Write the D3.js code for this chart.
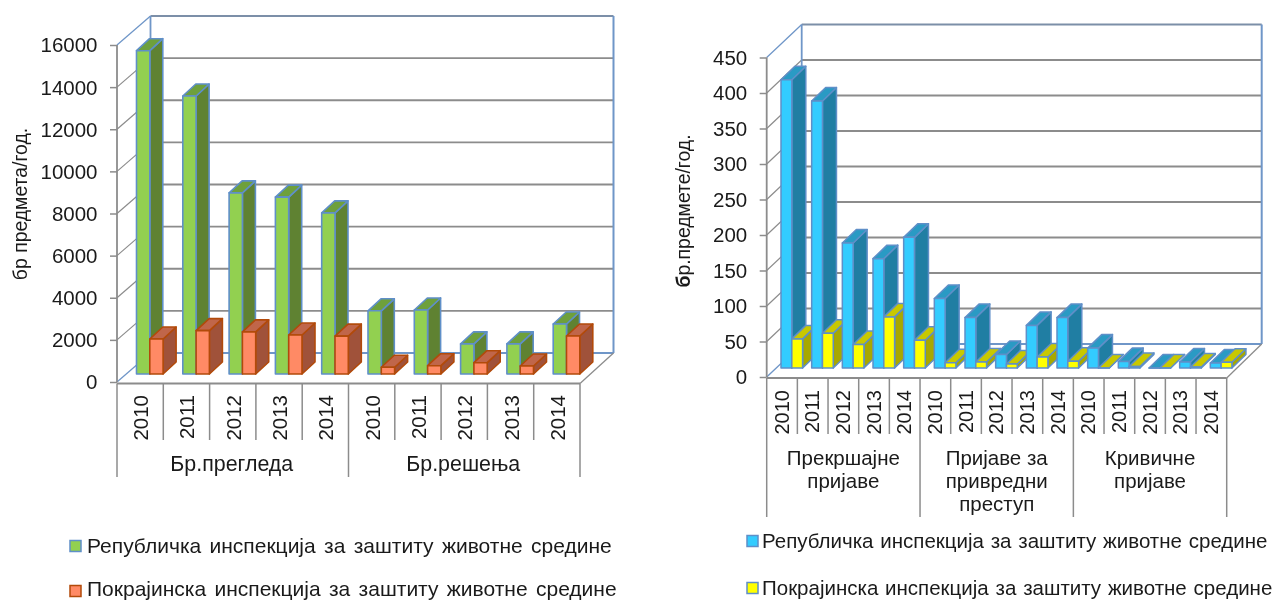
<!DOCTYPE html>
<html><head><meta charset="utf-8">
<script src="https://cdn.jsdelivr.net/npm/d3@7"></script>
<style>html,body{margin:0;padding:0;background:#fff;overflow:hidden}svg{display:block;filter:blur(0.35px)}text{font-family:"Liberation Sans",Arial,sans-serif;fill:#1a1a1a}</style>
</head><body><svg id="c" width="1274" height="600"></svg>
<script>
const years = ["2010","2011","2012","2013","2014"];
const leftGroups = [["Бр.прегледа"],["Бр.решења"]];
const leftRepublic = [15350,13200,8600,8400,7650,3000,3040,1430,1430,2375];
const leftProvince = [1660,2060,2000,1850,1800,320,395,537,380,1805];
const leftTicks = [0,2000,4000,6000,8000,10000,12000,14000,16000];
const rightGroups = [["Прекршајне","пријаве"],["Пријаве за","привредни","преступ"],["Кривичне","пријаве"]];
const rightRepublic = [406,376,176,154,184,98,71,19,60,71,28,9,0,8.5,7];
const rightProvince = [41,49,33,72,39,7.5,8.5,5.6,15.5,9.4,0,2,0,1.5,8];
const rightTicks = [0,50,100,150,200,250,300,350,400,450];
const legendNames = ["Републичка инспекција за заштиту животне средине","Покрајинска инспекција за заштиту животне средине"];

const svg = d3.select("#c");
const GRID="#8c8c8c", WALL="#6f96c8";

function chart(o){
  const g = svg.append("g");
  const y = d3.scaleLinear().domain([0,o.max]).range([o.y0,o.yTop]);
  const wallOff = o.y0 - o.backBottom;
  g.selectAll(".grid").data(o.ticks.slice(1,-1)).enter().append("line")
    .attr("x1",o.x0+o.dx).attr("x2",o.x1+o.dx)
    .attr("y1",d=>y(d)-wallOff).attr("y2",d=>y(d)-wallOff)
    .attr("stroke",GRID).attr("stroke-width",1.9);
  g.selectAll(".side").data(o.ticks.slice(1,-1)).enter().append("line")
    .attr("x1",o.x0).attr("x2",o.x0+o.dx)
    .attr("y1",d=>y(d)).attr("y2",d=>y(d)-wallOff)
    .attr("stroke",GRID).attr("stroke-width",1.2);
  g.append("line").attr("x1",o.x0+o.dx).attr("x2",o.x1+o.dx).attr("y1",y(o.max)-wallOff).attr("y2",y(o.max)-wallOff).attr("stroke","#7c8fa8").attr("stroke-width",1.8);
  g.append("line").attr("x1",o.x0+o.dx).attr("x2",o.x1+o.dx).attr("y1",o.backBottom).attr("y2",o.backBottom).attr("stroke",WALL).attr("stroke-width",2);
  g.append("line").attr("x1",o.x1+o.dx).attr("x2",o.x1+o.dx).attr("y1",y(o.max)-wallOff).attr("y2",o.backBottom).attr("stroke",WALL).attr("stroke-width",2);
  g.append("line").attr("x1",o.x0+o.dx).attr("x2",o.x0+o.dx).attr("y1",y(o.max)-wallOff).attr("y2",o.backBottom).attr("stroke",WALL).attr("stroke-width",1.8);
  g.append("line").attr("x1",o.x0).attr("x2",o.x0+o.dx).attr("y1",y(o.max)).attr("y2",y(o.max)-wallOff).attr("stroke",WALL).attr("stroke-width",1.3);
  g.append("line").attr("x1",o.x0).attr("x2",o.x0+o.dx).attr("y1",o.y0).attr("y2",o.backBottom).attr("stroke",WALL).attr("stroke-width",1.3);
  g.append("line").attr("x1",o.x1).attr("x2",o.x1+o.dx).attr("y1",o.floorY).attr("y2",o.backBottom).attr("stroke",GRID).attr("stroke-width",1.3);

  const n = o.a.length, cw=(o.x1-o.x0)/n;
  const band = i=>o.x0+cw*i;
  const by = d3.scaleLinear().domain([0,o.max]).range([o.base,o.base-(o.y0-o.yTop)]);
  function bar(x,w,v,c){
    const t=by(v), b=o.base, d=o.bdx, e=o.bdy;
    const bg=g.append("g").attr("stroke",c.line).attr("stroke-width",o.sw).attr("stroke-linejoin","round");
    bg.append("path").attr("d",`M${x+w},${t}L${x+w+d},${t-e}L${x+w+d},${b-e}L${x+w},${b}Z`).attr("fill",c.side);
    bg.append("path").attr("d",`M${x},${t}L${x+d},${t-e}L${x+w+d},${t-e}L${x+w},${t}Z`).attr("fill",c.top);
    bg.append("path").attr("d",`M${x},${t}H${x+w}V${b}H${x}Z`).attr("fill",c.front);
  }
  for(let i=0;i<n;i++){
    bar(band(i)+o.pad,o.bw,o.a[i],o.ca);
    bar(band(i)+o.pad+o.bw,o.bw,o.b[i],o.cb);
  }

  g.append("line").attr("x1",o.x0).attr("x2",o.x0).attr("y1",y(o.max)).attr("y2",o.y0).attr("stroke",GRID).attr("stroke-width",1.8);
  const ax=d3.axisLeft(y).tickValues(o.ticks).tickSize(7).tickFormat(d3.format("d"));
  const ag=g.append("g").attr("transform",`translate(${o.x0},0)`).call(ax);
  ag.select(".domain").remove();
  ag.selectAll("line").attr("stroke",GRID).attr("stroke-width",1.5);
  ag.selectAll("text").attr("font-size",o.fs).attr("fill","#1a1a1a").attr("dy","0.34em").attr("x",-19.5);

  g.append("line").attr("x1",o.x0).attr("x2",o.x1).attr("y1",o.floorY).attr("y2",o.floorY).attr("stroke",GRID).attr("stroke-width",1.8);
  for(let i=0;i<=n;i++){
    const isG = i%5===0;
    g.append("line").attr("x1",band(i)).attr("x2",band(i)).attr("y1",o.floorY)
      .attr("y2",isG?o.groupBottom:o.yearBottom).attr("stroke",GRID).attr("stroke-width",1.5);
  }
  for(let i=0;i<n;i++){
    g.append("text").attr("transform",`translate(${band(i)+cw/2+o.yearShift},${o.yearY}) rotate(-90)`)
      .attr("font-size",o.yfs).attr("text-anchor","end").text(years[i%5]);
  }
  o.groups.forEach((lines,k)=>{
    const cx=band(k*5)+cw*2.5+o.groupShift;
    lines.forEach((t,j)=>g.append("text").attr("x",cx).attr("y",o.groupY+j*o.groupLH)
      .attr("text-anchor","middle").attr("font-size",o.gfs).text(t));
  });
  const tt=g.append("text").attr("transform",`translate(${o.titleX},${o.titleY}) rotate(-90)`)
    .attr("text-anchor","middle").attr("font-size",o.tfs);
  tt.append("tspan").attr("font-weight",o.titleBold?"bold":"normal").text(o.title[0]);
  tt.append("tspan").text(o.title.slice(1));

  legendNames.forEach((t,k)=>{
    const c=k?o.cb:o.ca;
    g.append("rect").attr("x",o.lx).attr("y",o.ly[k]-o.ls/2).attr("width",o.ls).attr("height",o.ls)
      .attr("fill",c.front).attr("stroke",c.line).attr("stroke-width",1.5);
    g.append("text").attr("x",o.tx).attr("y",o.ly[k]+o.lo[k]).attr("font-size",o.lfs).attr("word-spacing",o.lws).text(t);
  });
}

chart({a:leftRepublic,b:leftProvince,max:16000,ticks:leftTicks,groups:leftGroups,
  x0:117,x1:580,y0:382,yTop:45,floorY:383.5,backBottom:353,dx:33.5,base:374,pad:19.5,bw:13.3,bdx:13,bdy:12,sw:1.6,
  ca:{front:"#92d050",side:"#5f8232",top:"#6ea03c",line:"#5f8fc8"},cb:{front:"#ff8a65",side:"#a0523a",top:"#c0664a",line:"#b24a0a"},
  fs:20.5,yfs:20.5,gfs:21.4,tfs:19.4,yearShift:8,yearY:395,yearBottom:440,groupBottom:477,groupY:470.5,groupLH:24,groupShift:-1,
  title:"бр предмета/год.",titleBold:false,titleX:27,titleY:204,lx:70,ly:[546,591],lo:[6.5,4.5],ls:11,tx:87,lfs:21,lws:2.5});
chart({a:rightRepublic,b:rightProvince,max:450,ticks:rightTicks,groups:rightGroups,
  x0:766.7,x1:1226.7,y0:377,yTop:57.5,floorY:378,backBottom:344,dx:35,base:368,pad:14.3,bw:10.8,bdx:14,bdy:13.5,sw:1.5,
  ca:{front:"#33ccff",side:"#207ea3",top:"#2a9ac4",line:"#5f8fc8"},cb:{front:"#ffff00",side:"#a8a800",top:"#c8c800",line:"#5f8fc8"},
  fs:20.5,yfs:20,gfs:20.5,tfs:19.4,yearShift:6.5,yearY:390,yearBottom:434,groupBottom:517,groupY:465,groupLH:23,groupShift:0,
  title:"бр.предмете/год.",titleBold:true,titleX:690,titleY:211,lx:747,ly:[541,588],lo:[6.5,6.5],ls:11,tx:762,lfs:20.5,lws:1.1});
</script></body></html>
